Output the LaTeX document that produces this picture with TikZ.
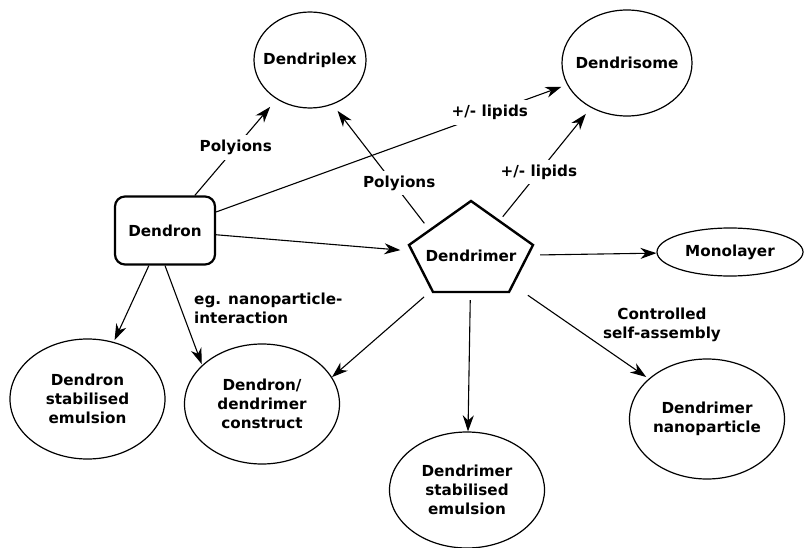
\documentclass[tikz,border=0pt]{standalone}
\usepackage{fontspec}
\setmainfont{DejaVu Sans}
\usetikzlibrary{arrows.meta,shapes.geometric}

\begin{document}
\begin{tikzpicture}[x=1pt, y=-1pt, >={Stealth[length=16pt,width=11pt,inset=5pt]},
  font=\fontsize{15.2}{19}\selectfont\bfseries,
  blob/.style={ellipse, draw, line width=1.2pt, align=center, inner sep=0pt, minimum width=155, minimum height=120},
  lbl/.style={fill=white, inner sep=5pt},
  link/.style={->, line width=1.1pt}]
\useasboundingbox (0,0) rectangle (805,548);
\node[draw, line width=2.2pt, rounded corners=10pt, minimum width=100, minimum height=68] (dendron) at (165,230.5) {Dendron};
\node[ellipse, minimum width=134, minimum height=88] (dendrimer) at (471,256) {Dendrimer};
\draw[line width=2.4pt] ([shift={(0,-55)}]dendrimer.center) -- ++(62,44) -- ++(-24,47) -- ++(-76,0) -- ++(-24,-47) -- cycle;
\node[blob, inner xsep=-8pt, minimum width=112, minimum height=96] (dendriplex) at (310,60) {Dendriplex};
\node[blob, inner xsep=-6pt, minimum width=130, minimum height=106] (dendrisome) at (627,63) {Dendrisome};
\node[blob, minimum width=146, minimum height=48] (monolayer) at (730,252) {Monolayer};
\node[blob] (dendronemul) at (87.5,399) {Dendron\\stabilised\\emulsion};
\node[blob] (construct) at (262,404) {Dendron/\\dendrimer\\construct};
\node[blob, minimum height=116] (dendrimeremul) at (467,490) {Dendrimer\\stabilised\\emulsion};
\node[blob] (nanoparticle) at (707,419) {Dendrimer\\nanoparticle};
\draw[link, shorten >=10pt] (dendron) -- node[lbl] {Polyions} (dendriplex);
\draw[link, shorten >=6pt] (dendron) -- node[lbl, pos=0.78] {+/- lipids} (dendrisome);
\draw[link, shorten >=8pt] (dendrimer.145) -- node[lbl, pos=0.34, xshift=6pt] {Polyions} (dendriplex.297);
\draw[link, shorten >=8pt] (dendrimer) -- node[lbl, pos=0.41] {+/- lipids} (dendrisome);
\draw[link, shorten >=2pt] (dendron) -- (dendrimer);
\draw[link] (dendrimer) -- (monolayer);
\draw[link, shorten >=2pt] (dendron) -- (dendronemul);
\draw[link, shorten >=1pt] (dendron.south) -- (construct.147);
\draw[link, shorten <=8pt] (dendrimer) -- (construct.21);
\draw[link] (dendrimer) -- (dendrimeremul);
\draw[link, shorten <=12pt, shorten >=3pt] (dendrimer) -- (nanoparticle);
\node[align=left, anchor=west, inner sep=0pt] (note) at (194,308) {eg. nanoparticle-\\interaction};
\node[align=center, inner sep=0pt] (assembly) at (662,324.5) {Controlled\\self-assembly};
\end{tikzpicture}
\end{document}
